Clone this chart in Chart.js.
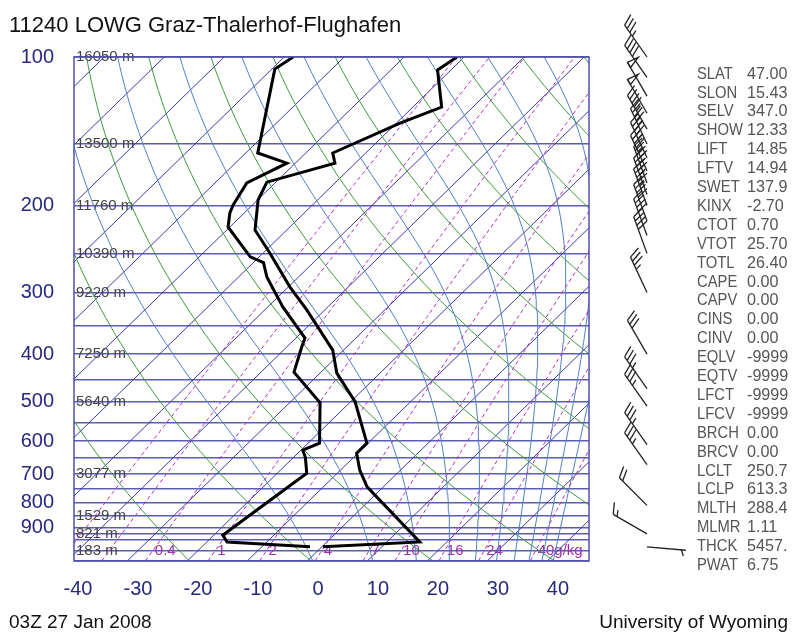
<!DOCTYPE html>
<html>
<head>
<meta charset="utf-8">
<script src="https://cdn.jsdelivr.net/npm/chart.js@4.4.1/dist/chart.umd.min.js"></script>
<style>
  html, body { margin: 0; padding: 0; background: #fff; }
</style>
</head>
<body>
<canvas id="myChart" width="797" height="637"></canvas>
<script>
// station / time
const stationTitle = '11240 LOWG Graz-Thalerhof-Flughafen';
const timeLabel = '03Z 27 Jan 2008';
const sourceLabel = 'University of Wyoming';

// sounding: temperature and dew point (hPa, degC)
const tempP = [100, 106.3, 126.3, 136.1, 156.5, 164.1, 179.3, 194.9, 224.1, 249.5, 292.6, 325.5, 392.6, 437, 500, 606, 635, 687, 743, 961, 983];
const tempC = [-61.2, -62.2, -55.2, -59.4, -65.5, -63.4, -71.5, -69.9, -65.3, -58.9, -49.7, -43.0, -31.8, -27.2, -19.2, -10.2, -10.2, -6.8, -2.7, 15.5, 0.2];
const dewP = [100, 105.8, 156.5, 164.1, 180, 199.5, 207, 221, 254, 261, 279, 321, 371, 387, 435, 502, 606, 626, 648, 697, 931, 961, 983];
const dewC = [-88.5, -89.5, -78.0, -71.4, -74.7, -73.2, -72.4, -70.3, -61.5, -58.3, -55.3, -47.5, -38.5, -37.5, -34.5, -24.9, -18.1, -19.7, -18.0, -15.1, -18.5, -16.6, -1.95];

// winds (hPa, deg, knots)
const windP = [100, 110, 120, 130, 140, 150, 160, 170, 180, 190, 200, 215, 230, 250, 300, 400, 470, 510, 610, 670, 810, 925, 983];
const windDir = [325, 325, 330, 330, 330, 335, 335, 335, 340, 340, 340, 340, 340, 340, 335, 330, 325, 325, 325, 325, 315, 300, 95];
const windKt = [35, 40, 50, 50, 45, 45, 45, 45, 45, 45, 45, 40, 40, 40, 35, 30, 35, 35, 35, 35, 20, 15, 5];

// background lines of the diagram
const isotherms = [-120, -110, -100, -90, -80, -70, -60, -50, -40, -30, -20, -10, 0, 10, 20, 30, 40];
const dryTheta = [210, 230, 250, 270, 290, 310, 330, 350, 370, 390, 410, 430, 450, 470];
const moistThetaE = [280, 300, 320, 340, 360, 380, 400, 420, 440, 460];
const mixRatio = [0.1, 0.2, 0.4, 1, 2, 4, 7, 10, 16, 24, 40];
const mixLabels = ['', '', '0.4', '1', '2', '4', '7', '10', '16', '24', '40g/kg'];

// axes
const isobars = [100, 150, 200, 250, 300, 350, 400, 450, 500, 550, 600, 650, 700, 750, 800, 850, 900, 925, 950, 1000, 1050];
const pLabels = [100, 200, 300, 400, 500, 600, 700, 800, 900];
const tLabels = [-40, -30, -20, -10, 0, 10, 20, 30, 40];
const hgtP = [100, 150, 200, 250, 300, 400, 500, 700, 850, 925, 1000];
const hgtText = ['16050 m', '13500 m', '11760 m', '10390 m', '9220 m', '7250 m', '5640 m', '3077 m', '1529 m', '821 m', '183 m'];

// station indices
const indexNames = ['SLAT', 'SLON', 'SELV', 'SHOW', 'LIFT', 'LFTV', 'SWET', 'KINX', 'CTOT', 'VTOT', 'TOTL', 'CAPE', 'CAPV', 'CINS', 'CINV', 'EQLV', 'EQTV', 'LFCT', 'LFCV', 'BRCH', 'BRCV', 'LCLT', 'LCLP', 'MLTH', 'MLMR', 'THCK', 'PWAT'];
const indexValues = ['47.00', '15.43', '347.0', '12.33', '14.85', '14.94', '137.9', '-2.70', '0.70', '25.70', '26.40', '0.00', '0.00', '0.00', '0.00', '-9999', '-9999', '-9999', '-9999', '0.00', '0.00', '250.7', '613.3', '288.4', '1.11', '5457.', '6.75'];

const SKEW = 36.64;
const skewX = (t, p) => t + SKEW * Math.log(1000 / p);

// pressure levels used to trace the curved lines
const levels = [];
for (let i = 0; i <= 60; i++) levels.push(1050 * Math.pow(100 / 1050, i / 60));

const satVap = t => 6.112 * Math.exp(17.67 * t / (t + 243.5));
function thetaE(t, p) {
    const es = satVap(t);
    const rs = 0.622 * es / Math.max(p - es, 1e-3);
    const tk = t + 273.15;
    return tk * Math.pow(1000 / p, 0.2857) * Math.exp(2.5e6 * rs / (1004 * tk));
}
function moistT(te, p) {
    let lo = -160, hi = 60;
    for (let i = 0; i < 50; i++) {
        const mid = (lo + hi) / 2;
        if (thetaE(mid, p) > te) hi = mid; else lo = mid;
    }
    return (lo + hi) / 2;
}
function mixT(w, p) {
    const e = w * p / (622 + w);
    const L = Math.log(e / 6.112);
    return 243.5 * L / (17.67 - L);
}

const line = (data, color, width, dash, order) => ({
    data: data, borderColor: color, borderWidth: width, borderDash: dash,
    pointRadius: 0, showLine: true, fill: false, order: order,
});

const datasets = [];
datasets.push(line(tempP.map((p, i) => ({ x: skewX(tempC[i], p), y: p })), '#000', 3, [], 0));
datasets.push(line(dewP.map((p, i) => ({ x: skewX(dewC[i], p), y: p })), '#000', 3, [], 0));
isotherms.forEach(t => {
    datasets.push(line([1050, 100].map(p => ({ x: skewX(t, p), y: p })), '#3a3aa8', 1, [], 4));
});
dryTheta.forEach(th => {
    datasets.push(line(levels.map(p => ({ x: skewX(th * Math.pow(p / 1000, 0.2857) - 273.15, p), y: p })), '#3c9a3c', 1, [], 3));
});
moistThetaE.forEach(te => {
    datasets.push(line(levels.map(p => ({ x: skewX(moistT(te, p), p), y: p })), '#4f7fc4', 1, [], 2));
});
mixRatio.forEach(w => {
    datasets.push(line(levels.map(p => ({ x: skewX(mixT(w, p), p), y: p })), '#b030c0', 1, [4, 3], 1));
});

function drawBarb(c, x0, y0, dir, kt) {
    const a = dir * Math.PI / 180;
    const ux = Math.sin(a), uy = -Math.cos(a);
    const nx = -uy, ny = ux;
    const len = 39;
    c.beginPath();
    c.moveTo(x0, y0);
    c.lineTo(x0 + ux * len, y0 + uy * len);
    c.stroke();
    let s = Math.round(kt / 5) * 5;
    let pos = len;
    while (s >= 50) {
        c.beginPath();
        c.moveTo(x0 + ux * pos, y0 + uy * pos);
        c.lineTo(x0 + ux * (pos - 1) + nx * 12, y0 + uy * (pos - 1) + ny * 12);
        c.lineTo(x0 + ux * (pos - 6), y0 + uy * (pos - 6));
        c.closePath();
        c.stroke();
        pos -= 8;
        s -= 50;
    }
    while (s >= 10) {
        c.beginPath();
        c.moveTo(x0 + ux * pos, y0 + uy * pos);
        c.lineTo(x0 + ux * (pos + 5) + nx * 11, y0 + uy * (pos + 5) + ny * 11);
        c.stroke();
        pos -= 4.5;
        s -= 10;
    }
    if (s >= 5) {
        if (pos === len) pos -= 4.5;
        c.beginPath();
        c.moveTo(x0 + ux * pos, y0 + uy * pos);
        c.lineTo(x0 + ux * (pos + 2.5) + nx * 6, y0 + uy * (pos + 2.5) + ny * 6);
        c.stroke();
    }
}

const skewtText = {
    id: 'skewtText',
    beforeDatasetsDraw(chart) {
        const c = chart.ctx, ys = chart.scales.y, xs = chart.scales.x, area = chart.chartArea;
        c.save();
        c.font = '15px "Liberation Sans", Arial, sans-serif';
        c.textBaseline = 'middle';
        c.fillStyle = '#444';
        c.textAlign = 'left';
        hgtP.forEach((p, i) => c.fillText(hgtText[i], area.left + 2, ys.getPixelForValue(p)));
        c.fillStyle = '#a030b0';
        const y1000 = ys.getPixelForValue(1000);
        mixRatio.forEach((w, i) => {
            if (!mixLabels[i]) return;
            c.fillText(mixLabels[i], xs.getPixelForValue(skewX(mixT(w, 1000), 1000)) + 2, y1000);
        });
        c.restore();
    },
    afterDraw(chart) {
        const c = chart.ctx, ys = chart.scales.y, area = chart.chartArea;
        c.save();
        c.strokeStyle = '#5050a8';
        c.lineWidth = 1.5;
        c.strokeRect(area.left, area.top, area.right - area.left, area.bottom - area.top);

        c.fillStyle = '#111';
        c.font = '22px "Liberation Sans", Arial, sans-serif';
        c.textBaseline = 'middle';
        c.textAlign = 'left';
        c.fillText(stationTitle, 9, 26);
        c.font = '19px "Liberation Sans", Arial, sans-serif';
        c.fillText(timeLabel, 9, 623);
        c.textAlign = 'right';
        c.fillText(sourceLabel, 788, 623);

        // index table, slightly condensed text
        c.textAlign = 'left';
        c.font = '17px "Liberation Sans", Arial, sans-serif';
        c.fillStyle = '#555';
        indexNames.forEach((n, i) => {
            const y = 74 + i * 18.9;
            c.save();
            c.translate(697, y);
            c.scale(0.87, 1);
            c.fillText(n, 0, 0);
            c.restore();
            c.save();
            c.translate(747, y);
            c.scale(0.95, 1);
            c.fillText(indexValues[i], 0, 0);
            c.restore();
        });

        c.strokeStyle = '#222';
        c.fillStyle = '#222';
        c.lineWidth = 1.3;
        const bx = area.right + 58;
        windP.forEach((p, i) => drawBarb(c, bx, ys.getPixelForValue(p), windDir[i], windKt[i]));
        c.restore();
    }
};

const ctx = document.getElementById('myChart');
const chart = new Chart(ctx, {
    type: 'scatter',
    data: { datasets: datasets },
    options: {
        responsive: false,
        animation: false,
        events: [],
        layout: { padding: { left: 0, right: 208, top: 57, bottom: 26 } },
        plugins: { legend: { display: false }, tooltip: { enabled: false } },
        scales: {
            x: {
                type: 'linear',
                min: -40.67,
                max: 45.17,
                afterBuildTicks: s => { s.ticks = tLabels.map(v => ({ value: v })); },
                afterFit: s => { s.height = 50; },
                grid: { display: false },
                border: { display: false },
                ticks: {
                    autoSkip: false, maxRotation: 0, padding: 8,
                    color: '#28287e',
                    font: { size: 20, family: '"Liberation Sans", Arial, sans-serif' },
                },
            },
            y: {
                type: 'logarithmic',
                reverse: true,
                min: 100,
                max: 1050,
                afterBuildTicks: s => { s.ticks = isobars.map(v => ({ value: v })); },
                afterFit: s => { s.width = 74; },
                grid: { color: '#5c5cb0', lineWidth: 1.6, drawTicks: false },
                border: { display: false },
                ticks: {
                    autoSkip: false, padding: 20,
                    color: '#28287e',
                    font: { size: 20, family: '"Liberation Sans", Arial, sans-serif' },
                    callback: v => pLabels.includes(v) ? String(v) : '',
                },
            },
        },
    },
    plugins: [skewtText],
});
</script>
</body>
</html>
